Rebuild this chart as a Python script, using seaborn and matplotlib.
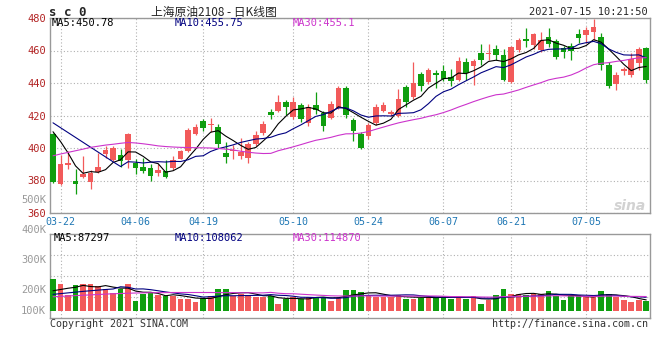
import numpy as np
import pandas as pd
import matplotlib
matplotlib.use("Agg")
import matplotlib.pyplot as plt
import seaborn as sns

# SC0 crude oil daily K data, 2021-03-19 .. 2021-07-15
opens = [408.8, 378.0, 389.5, 380.0, 382.2, 379.2, 385.2, 396.5, 392.8, 396.0,
         392.4, 390.8, 388.3, 387.8, 384.7, 385.7, 387.8, 393.3, 398.0, 408.8,
         416.7, 414.0, 412.8, 397.0, 398.0, 395.3, 393.9, 402.4, 409.2, 422.4,
         422.8, 428.5, 419.3, 426.5, 415.3, 426.5, 421.4, 418.7, 424.8, 437.1,
         417.3, 408.6, 407.1, 415.3, 422.8, 420.8, 419.9, 437.7, 431.6, 445.3,
         440.7, 445.9, 447.5, 443.7, 442.0, 453.2, 450.2, 458.5, 458.0, 461.0,
         457.3, 440.4, 460.4, 467.3, 463.4, 460.4, 468.5, 466.0, 461.4, 462.8,
         470.2, 469.5, 471.6, 468.5, 451.2, 439.2, 447.1, 445.1, 452.6, 461.4]
highs = [409.5, 396.0, 398.0, 387.0, 395.3, 386.5, 397.0, 401.5, 401.5, 399.5,
         409.5, 393.5, 394.0, 390.0, 390.0, 392.5, 395.0, 399.0, 412.5, 414.5,
         418.0, 418.3, 414.5, 404.0, 402.0, 406.0, 403.5, 410.2, 416.7, 424.0,
         432.6, 429.5, 431.6, 428.0, 427.0, 434.6, 423.0, 429.0, 438.3, 438.0,
         418.5, 410.0, 415.5, 427.0, 428.5, 423.3, 436.3, 439.0, 453.0, 447.0,
         449.0, 448.0, 451.0, 448.5, 455.7, 455.3, 454.7, 464.0, 464.0, 463.4,
         461.0, 462.5, 467.5, 473.6, 471.0, 471.6, 474.0, 467.0, 462.6, 464.5,
         473.2, 474.6, 479.5, 470.6, 453.2, 447.0, 450.0, 458.3, 462.4, 462.0]
lows = [378.5, 377.0, 387.0, 372.0, 381.7, 375.0, 384.7, 394.0, 392.0, 388.5,
        388.0, 384.0, 384.5, 379.5, 382.5, 381.8, 386.7, 393.0, 397.5, 408.0,
        410.5, 410.0, 400.0, 390.8, 393.0, 393.0, 391.0, 401.0, 408.0, 418.0,
        422.0, 420.4, 418.0, 416.3, 413.8, 421.0, 410.2, 418.0, 424.0, 418.7,
        404.5, 399.5, 405.7, 414.0, 422.0, 420.0, 419.0, 425.0, 430.0, 435.0,
        439.5, 437.0, 441.0, 438.0, 441.4, 442.0, 439.0, 451.0, 454.0, 454.3,
        441.4, 440.0, 459.3, 462.4, 461.0, 459.3, 462.4, 455.0, 455.5, 454.3,
        464.5, 464.5, 466.5, 448.3, 437.1, 436.0, 445.0, 444.0, 448.0, 440.0]
closes = [379.2, 390.4, 390.8, 378.0, 383.7, 384.5, 388.2, 399.0, 400.0, 392.2,
          408.7, 387.8, 385.7, 383.0, 386.7, 382.3, 392.4, 398.0, 411.2, 412.8,
          412.2, 414.5, 402.6, 394.5, 399.0, 397.3, 402.6, 408.1, 414.9, 420.4,
          428.5, 425.4, 428.1, 417.7, 425.4, 423.4, 413.8, 427.1, 437.1, 420.4,
          410.2, 400.0, 414.3, 425.4, 426.5, 422.0, 430.2, 428.5, 439.8, 438.3,
          447.9, 444.8, 442.7, 441.5, 453.7, 446.1, 453.7, 454.3, 458.5, 457.5,
          442.0, 462.0, 466.5, 465.7, 470.2, 466.5, 464.0, 456.3, 459.0, 459.8,
          467.8, 472.4, 474.4, 451.2, 438.4, 445.1, 448.6, 454.7, 460.8, 441.6]
volume_k = [258, 213, 125, 205, 213, 213, 197, 178, 146, 171,
            213, 80, 131, 144, 125, 120, 120, 98, 98, 72,
            106, 117, 171, 178, 120, 131, 125, 112, 112, 120,
            53, 98, 112, 98, 112, 112, 112, 80, 106, 168,
            168, 151, 120, 112, 112, 112, 125, 98, 98, 104,
            112, 112, 112, 98, 112, 98, 120, 53, 85, 125,
            173, 133, 133, 125, 131, 131, 157, 120, 85, 120,
            125, 112, 112, 157, 138, 112, 85, 72, 85, 80]

# moving average values where the window reaches back before the chart
ma5_head = [410.0, 404.0, 397.0, 389.0]
ma10_head = [415.5, 412.5, 409.5, 406.5, 403.5, 400.5, 397.5, 394.5, 391.5]
ma30_head = [395.2, 396.3, 397.3, 398.3, 399.3, 400.4, 401.1, 401.8, 402.3, 402.9,
             403.4, 403.1, 402.6, 402.0, 401.3, 400.9, 400.6, 400.4, 400.3, 400.2,
             400.1, 400.0, 399.7, 399.3, 398.8, 398.0, 397.4, 396.9, 396.6]
vma5_head = [160, 170, 180, 188]
vma10_head = [131, 137, 143, 149, 155, 160, 165, 170, 174]
vma30_head = [112, 115, 118, 121, 124, 127, 130, 133, 136, 138,
              140, 142, 143, 144, 145, 145, 146, 146, 146, 146,
              146, 146, 145, 145, 145, 144, 144, 143, 143]

date_labels = ["03-22", "04-06", "04-19", "05-10", "05-24", "06-07", "06-21", "07-05"]
date_index = [1, 11, 20, 32, 42, 52, 61, 71]
price_ticks = [360, 380, 400, 420, 440, 460, 480]
vol_labels = ["500K", "400K", "300K", "200K", "100K"]
vol_label_rows = [200, 230, 260, 290, 311]   # pixel rows used by sina

RED = "#f25a5a"
GREEN = "#0f9e0f"
MA_COLORS = {"MA5": "#000000", "MA10": "#000080", "MA30": "#cc33cc"}
GRID = dict(color="#b0b0b0", linestyle=(0, (1, 2)), linewidth=0.8)

sns.set_theme(style="white")
plt.rcParams["font.family"] = ["DejaVu Sans Mono", "Noto Sans CJK SC"]

W, H = 660, 360


def px(x, y):
    """pixel position (from top-left) to figure fraction"""
    return x / W, 1 - y / H


def moving_average(values, window, head):
    ma = pd.Series(values, dtype=float).rolling(window).mean()
    ma.iloc[:len(head)] = head
    return ma


def style_axes(ax):
    for sp in ax.spines.values():
        sp.set_color("#999999")
        sp.set_linewidth(1.0)
    ax.set_xlim(-0.4, 79.5)
    ax.set_xlabel("")
    ax.set_ylabel("")


df = pd.DataFrame({"open": opens, "high": highs, "low": lows,
                   "close": closes, "volume": np.array(volume_k) * 1000})
df["idx"] = np.arange(len(df))
df["dir"] = np.where(df["close"] >= df["open"], "up", "down")
colors = np.where(df["dir"] == "up", RED, GREEN)

fig = plt.figure(figsize=(W / 100, H / 100), dpi=100)
ax1 = fig.add_axes([50 / W, 1 - 213 / H, 600 / W, 195 / H])
ax2 = fig.add_axes([50 / W, 1 - 318 / H, 600 / W, 84 / H])

# ---- price panel
ax1.vlines(df["idx"], df["low"], df["high"], colors=colors, linewidth=0.9, zorder=3)
body = (df["close"] - df["open"]).abs().clip(lower=0.4)
ax1.bar(df["idx"], body, bottom=df[["open", "close"]].min(axis=1),
        width=0.75, color=colors, linewidth=0, zorder=4)

for name, win, head in [("MA5", 5, ma5_head), ("MA10", 10, ma10_head), ("MA30", 30, ma30_head)]:
    sns.lineplot(x=df["idx"], y=moving_average(df["close"], win, head), ax=ax1,
                 color=MA_COLORS[name], linewidth=0.8, zorder=5)

ax1.set_ylim(360, 480)
ax1.set_yticks(price_ticks)
ax1.set_xticks(date_index)
ax1.set_xticklabels(date_labels)
ax1.grid(True, **GRID)
ax1.tick_params(axis="y", length=0, pad=3, labelsize=7.5, labelcolor="#b22222")
ax1.tick_params(axis="x", length=0, pad=3, labelsize=7.2, labelcolor="#1f77b4")
style_axes(ax1)

# ---- volume panel
sns.barplot(x=df["idx"], y=df["volume"], hue=df["dir"], palette={"up": RED, "down": GREEN},
            native_scale=True, dodge=False, width=0.75, linewidth=0, saturation=1,
            legend=False, ax=ax2, zorder=3)
for name, win, head in [("MA5", 5, vma5_head), ("MA10", 10, vma10_head), ("MA30", 30, vma30_head)]:
    sns.lineplot(x=df["idx"], y=moving_average(df["volume"], win, np.array(head) * 1000), ax=ax2,
                 color=MA_COLORS[name], linewidth=0.8, zorder=5)

vlo, vhi = -58000, 614000
ax2.set_ylim(vlo, vhi)
ax2.set_yticks(np.linspace(vlo, vhi, 5)[1:-1])
ax2.set_yticklabels([])
ax2.set_xticks(date_index)
ax2.set_xticklabels([])
ax2.grid(True, **GRID)
ax2.tick_params(length=0)
style_axes(ax2)

# ---- texts
mono = dict(fontsize=7.5, va="center")
fig.text(*px(49, 12), "s c 0", fontsize=9, fontweight="bold", va="center")
fig.text(*px(214, 12), "上海原油2108 - 日K线图", fontsize=8.5, ha="center", va="center",
         family=["Noto Sans CJK SC", "DejaVu Sans"])
fig.text(*px(648, 12), "2021-07-15 10:21:50", ha="right", **mono)

fig.text(*px(52, 23.5), "MA5:450.78", color=MA_COLORS["MA5"], **mono)
fig.text(*px(175, 23.5), "MA10:455.75", color=MA_COLORS["MA10"], **mono)
fig.text(*px(293, 23.5), "MA30:455.1", color=MA_COLORS["MA30"], **mono)

fig.text(*px(54, 238), "MA5:87297", color=MA_COLORS["MA5"], **mono)
fig.text(*px(175, 238), "MA10:108062", color=MA_COLORS["MA10"], **mono)
fig.text(*px(293, 238), "MA30:114870", color=MA_COLORS["MA30"], **mono)

for lab, row in zip(vol_labels, vol_label_rows):
    fig.text(*px(46, row), lab, ha="right", color="#999999", **mono)

fig.text(*px(646, 206), "sina", ha="right", va="center", color="#d2d2d2", fontsize=10,
         fontstyle="italic", fontweight="bold", family="DejaVu Sans")

fig.text(*px(50, 324), "Copyright 2021 SINA.COM", color="#333333", fontsize=7.2, va="center")
fig.text(*px(648, 324), "http://finance.sina.com.cn", color="#333333", fontsize=7.2,
         ha="right", va="center")

fig.savefig("out.png", dpi=100)
